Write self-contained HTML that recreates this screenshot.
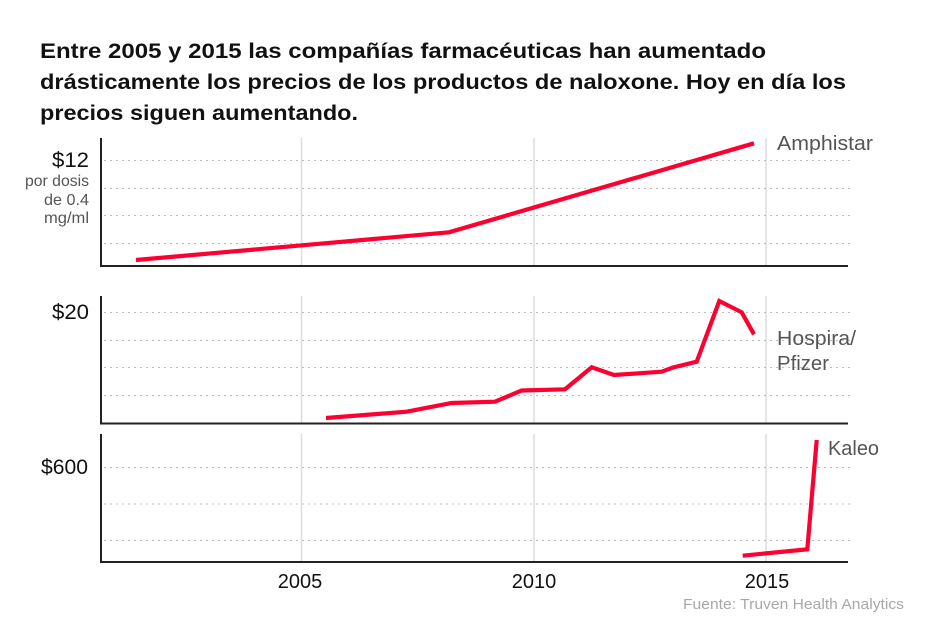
<!DOCTYPE html>
<html>
<head>
<meta charset="utf-8">
<style>
  html,body{margin:0;padding:0;background:#fff;}
  svg{display:block;}
  text{font-family:"Liberation Sans", sans-serif;}
</style>
</head>
<body>
<svg width="946" height="631" viewBox="0 0 946 631" xmlns="http://www.w3.org/2000/svg">
  <rect width="946" height="631" fill="#fff"/>
  <!-- Title -->
  <g font-weight="bold" font-size="21" fill="#111">
    <text x="40" y="58" textLength="726" lengthAdjust="spacingAndGlyphs">Entre 2005 y 2015 las compañías farmacéuticas han aumentado</text>
    <text x="40" y="89" textLength="806" lengthAdjust="spacingAndGlyphs">drásticamente los precios de los productos de naloxone. Hoy en día los</text>
    <text x="40" y="120" textLength="318" lengthAdjust="spacingAndGlyphs">precios siguen aumentando.</text>
  </g>

  <!-- vertical year gridlines -->
  <g stroke="#dcdcdc" stroke-width="1.5">
    <line x1="301.5" y1="138" x2="301.5" y2="266"/>
    <line x1="534" y1="138" x2="534" y2="266"/>
    <line x1="766" y1="138" x2="766" y2="266"/>
    <line x1="301.5" y1="296" x2="301.5" y2="423"/>
    <line x1="534" y1="296" x2="534" y2="423"/>
    <line x1="766" y1="296" x2="766" y2="423"/>
    <line x1="301.5" y1="434" x2="301.5" y2="562"/>
    <line x1="534" y1="434" x2="534" y2="562"/>
    <line x1="766" y1="434" x2="766" y2="562"/>
  </g>

  <!-- horizontal dotted gridlines -->
  <g stroke="#bdbdbd" stroke-width="1" stroke-dasharray="2,4">
    <line x1="104" y1="160.5" x2="850" y2="160.5"/>
    <line x1="104" y1="188.5" x2="850" y2="188.5"/>
    <line x1="104" y1="215.5" x2="850" y2="215.5"/>
    <line x1="104" y1="243.5" x2="850" y2="243.5"/>
    <line x1="104" y1="312.5" x2="850" y2="312.5"/>
    <line x1="104" y1="340.5" x2="850" y2="340.5"/>
    <line x1="104" y1="367.5" x2="850" y2="367.5"/>
    <line x1="104" y1="395.5" x2="850" y2="395.5"/>
    <line x1="104" y1="467.5" x2="850" y2="467.5"/>
    <line x1="104" y1="504" x2="850" y2="504"/>
    <line x1="104" y1="540.5" x2="850" y2="540.5"/>
  </g>

  <!-- axes -->
  <g stroke="#222" stroke-width="2" fill="none">
    <polyline points="101,138 101,266 848,266"/>
    <polyline points="101,296 101,423.5 848,423.5"/>
    <polyline points="101,434 101,562 848,562"/>
  </g>

  <!-- series -->
  <g stroke="#fb0030" stroke-width="4.2" fill="none" stroke-linejoin="miter" stroke-linecap="butt">
    <polyline points="136,260 449,232.3 754,143.3"/>
    <polyline points="326,418 406.7,411.7 451.7,403 495,401.7 521.7,390.5 565,389.3 591.7,367.3 614,375 661.7,371.7 673,367.5 696.7,361.7 719.3,301 741.7,312.3 754,334.3"/>
    <polyline points="742.7,555.7 807.3,549.3 816.7,440"/>
  </g>

  <!-- y labels -->
  <g text-anchor="end">
    <text x="89" y="167" font-size="21" fill="#111" textLength="37" lengthAdjust="spacingAndGlyphs">$12</text>
    <text x="89" y="186" font-size="16" fill="#555" textLength="64" lengthAdjust="spacingAndGlyphs">por dosis</text>
    <text x="89" y="205" font-size="16" fill="#555" textLength="45" lengthAdjust="spacingAndGlyphs">de 0.4</text>
    <text x="89" y="223" font-size="16" fill="#555" textLength="45" lengthAdjust="spacingAndGlyphs">mg/ml</text>
    <text x="89" y="319" font-size="21" fill="#111" textLength="37" lengthAdjust="spacingAndGlyphs">$20</text>
    <text x="88" y="474" font-size="21" fill="#111" textLength="47" lengthAdjust="spacingAndGlyphs">$600</text>
  </g>

  <!-- series labels -->
  <g font-size="20" fill="#555">
    <text x="777" y="150" textLength="96" lengthAdjust="spacingAndGlyphs">Amphistar</text>
    <text x="777" y="345" textLength="79" lengthAdjust="spacingAndGlyphs">Hospira/</text>
    <text x="777" y="370" textLength="52" lengthAdjust="spacingAndGlyphs">Pfizer</text>
    <text x="828" y="455" textLength="51" lengthAdjust="spacingAndGlyphs">Kaleo</text>
  </g>

  <!-- x labels -->
  <g font-size="20" fill="#111" text-anchor="middle">
    <text x="300" y="588">2005</text>
    <text x="534" y="588">2010</text>
    <text x="767" y="588">2015</text>
  </g>

  <text x="683" y="609" font-size="15" fill="#a8a8a8" textLength="221" lengthAdjust="spacingAndGlyphs">Fuente: Truven Health Analytics</text>
</svg>
</body>
</html>
